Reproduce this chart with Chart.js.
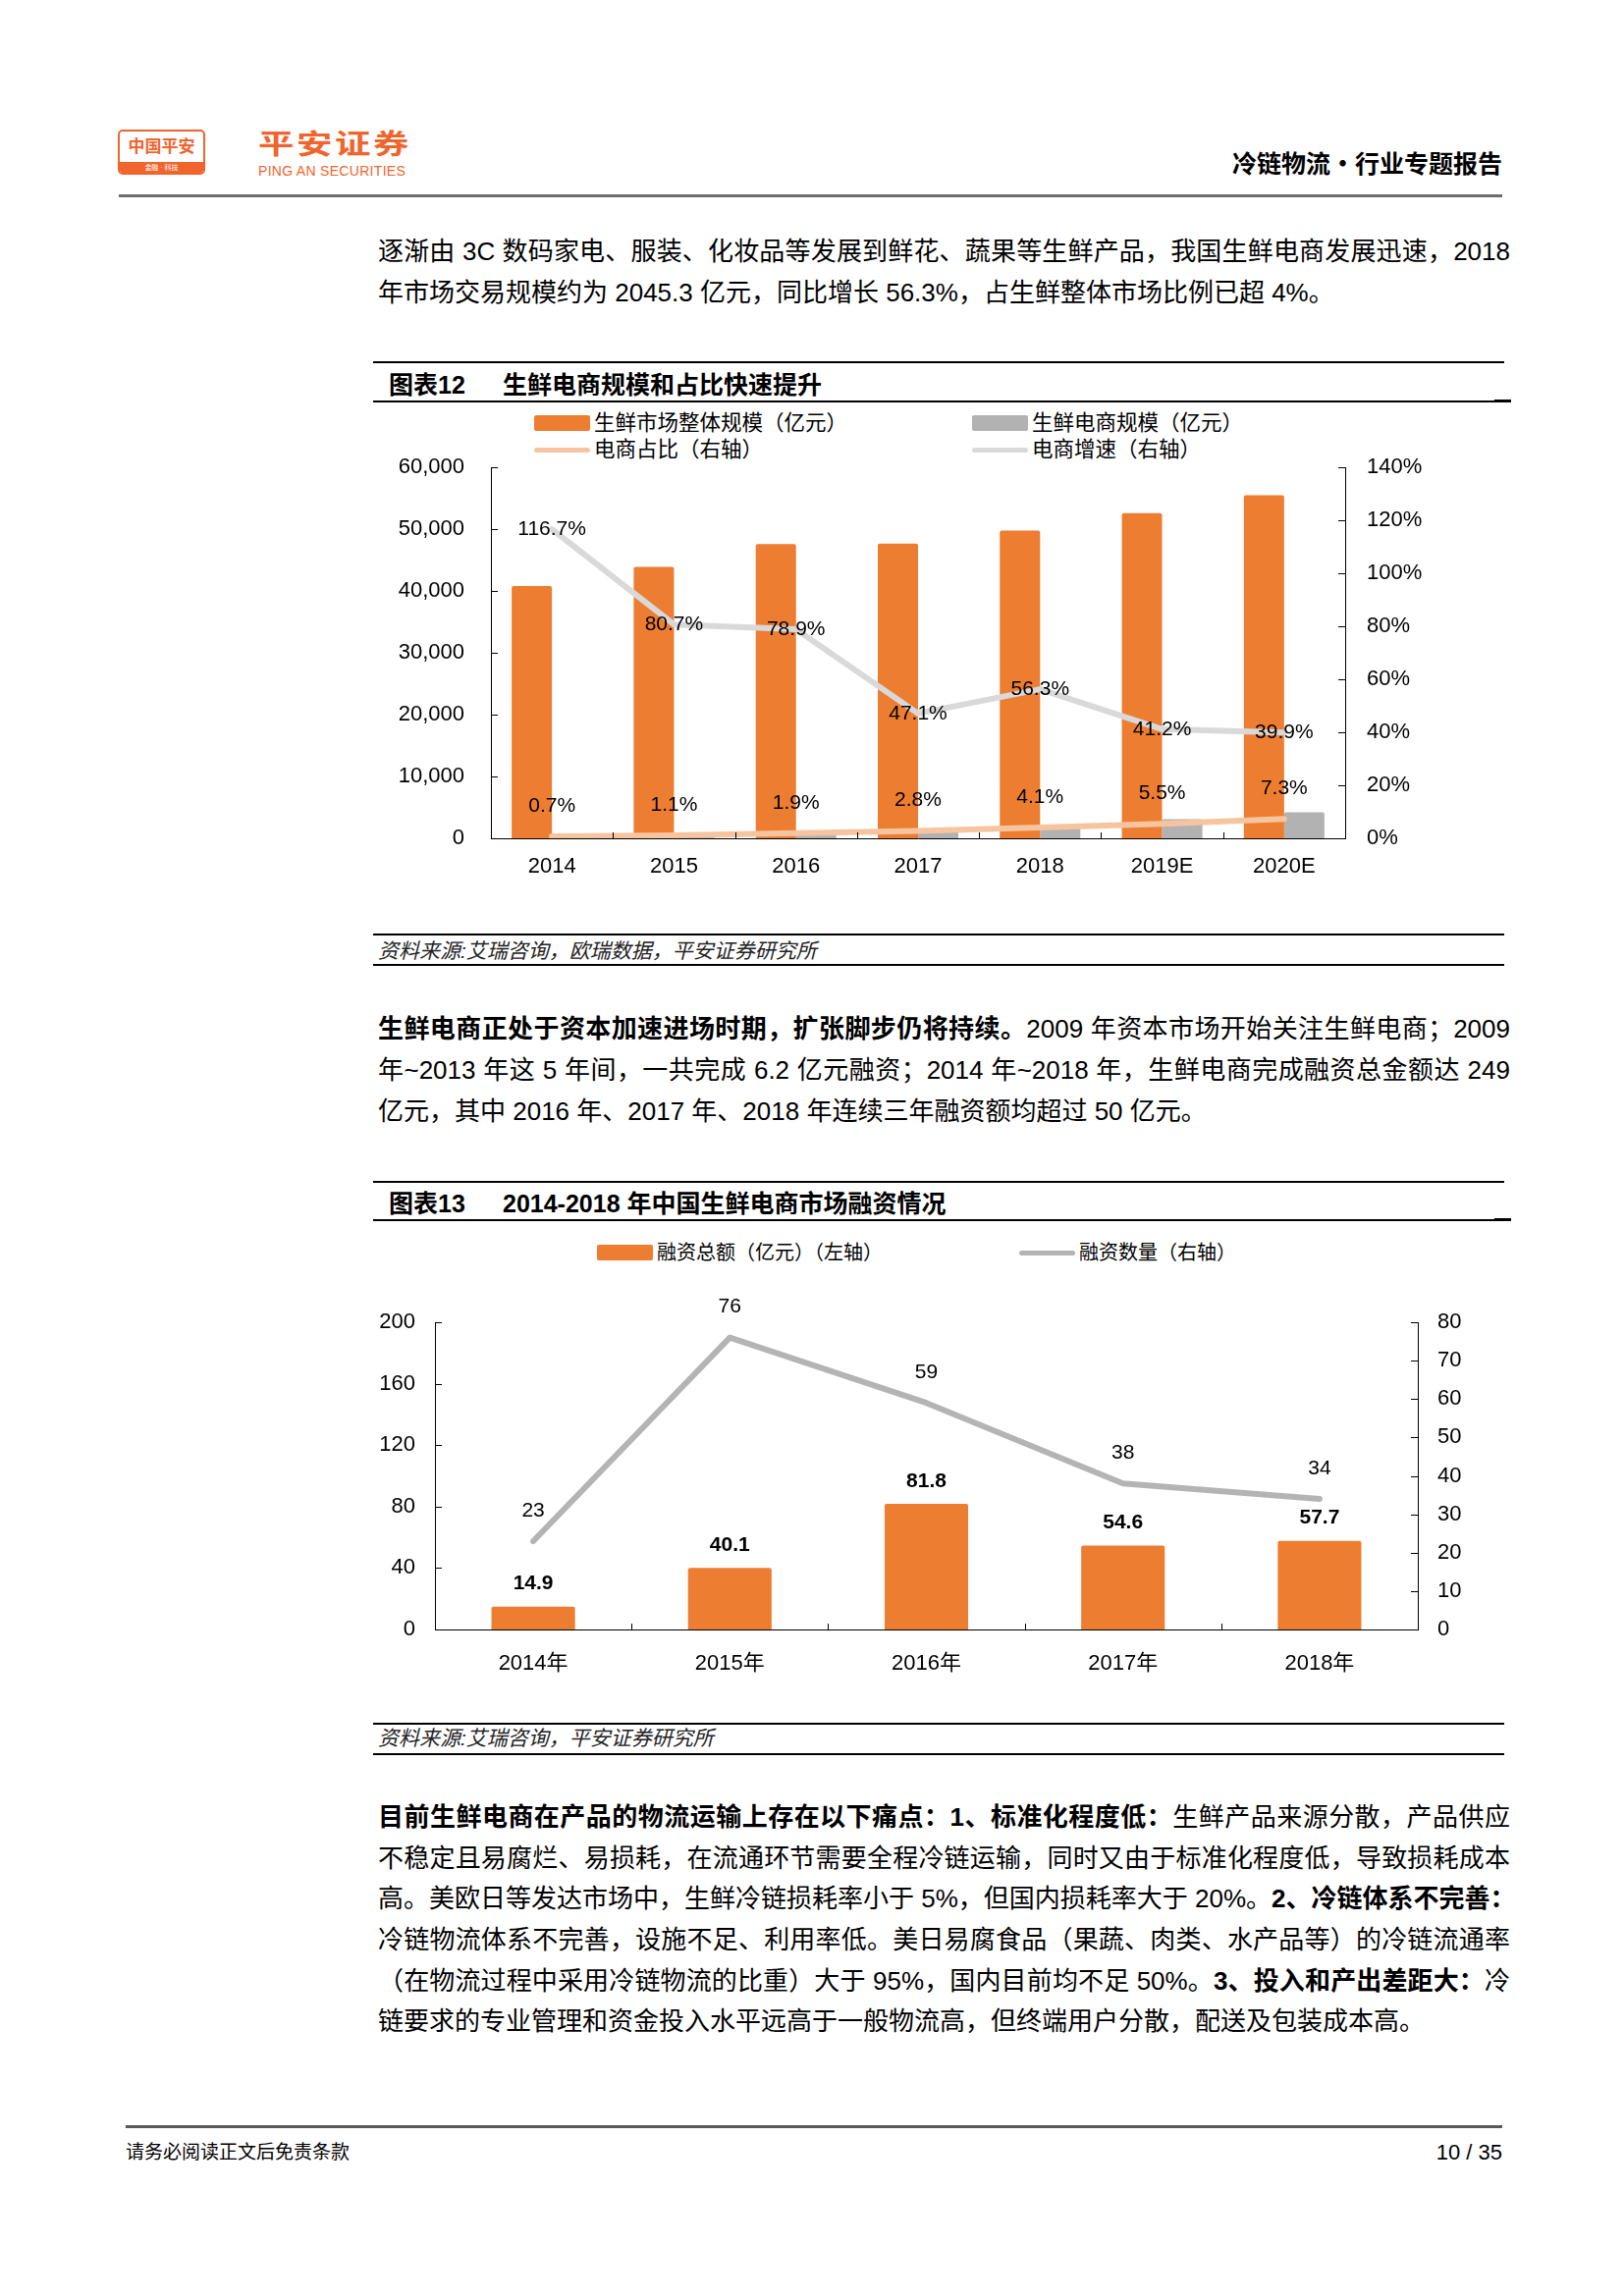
<!DOCTYPE html>
<html>
<head>
<meta charset="utf-8">
<script src="https://cdn.jsdelivr.net/npm/chart.js@4.4.1/dist/chart.umd.min.js"></script>
<style>
  body { margin: 0; background: #fff; }
  #page { position: relative; width: 1654px; height: 2339px; overflow: hidden; background: #fff;
          font-family: "Liberation Sans", "Noto Sans CJK SC", sans-serif; color: #000; }
  .abs { position: absolute; white-space: nowrap; }
  .txt { position: absolute; left: 385px; width: 1153px; height: 40px; line-height: 40px;
         font-size: 26px; white-space: nowrap; }
  .j { text-align: justify; text-align-last: justify; }
  .rule { position: absolute; background: #000; }
  .title { position: absolute; font-size: 25px; font-weight: bold; line-height: 30px; height: 30px; white-space: nowrap; }
  .src { position: absolute; left: 385px; font-size: 21px; font-style: italic; color: #222; line-height: 26px; white-space: nowrap; }
  .leg { position: absolute; white-space: nowrap; line-height: 26px; height: 26px; }
  canvas { position: absolute; }
</style>
</head>
<body>
<div id="page">
  <!-- header -->
  <div class="abs" style="left:120px;top:132px;width:85px;height:42px;border:2px solid #F0642D;border-radius:5px;overflow:hidden;">
    <div class="abs" style="left:0;top:5px;width:85px;text-align:center;font-size:17px;font-weight:bold;color:#F0642D;line-height:22px;">中国平安</div>
    <div class="abs" style="left:0;top:31px;width:85px;height:11px;background:#F0642D;color:#fff;font-size:7px;line-height:11px;text-align:center;">金融 · 科技</div>
  </div>
  <div class="abs" style="left:263px;top:131px;font-size:28px;font-weight:bold;color:#F0642D;letter-spacing:2px;transform:scaleX(1.3);transform-origin:left top;line-height:34px;">平安证券</div>
  <div class="abs" style="left:263px;top:166px;font-size:14px;color:#F0642D;line-height:16px;letter-spacing:0.3px;">PING AN SECURITIES</div>
  <div class="abs" style="right:124px;top:149px;font-size:25px;font-weight:bold;line-height:32px;font-family:'Noto Sans CJK SC',sans-serif;">冷链物流·行业专题报告</div>
  <div class="rule" style="left:121px;top:198px;width:1409px;height:3px;background:#6d6d6d;"></div>

  <!-- paragraph 1 -->
  <div class="txt j" style="top:236px;">逐渐由 3C 数码家电、服装、化妆品等发展到鲜花、蔬果等生鲜产品，我国生鲜电商发展迅速，2018</div>
  <div class="txt" style="top:278px;">年市场交易规模约为 2045.3 亿元，同比增长 56.3%，占生鲜整体市场比例已超 4%。</div>

  <!-- figure 12 -->
  <div class="rule" style="left:380px;top:368px;width:1152px;height:2px;"></div>
  <div class="title" style="left:396px;top:377px;">图表12</div>
  <div class="title" style="left:512px;top:377px;">生鲜电商规模和占比快速提升</div>
  <div class="rule" style="left:380px;top:408px;width:1152px;height:1.5px;"></div>
  <div class="rule" style="left:1522px;top:407px;width:17px;height:3px;"></div>
  <div id="legend1"></div>
  <canvas id="chart1" width="1150" height="476" style="left:380px;top:436px;"></canvas>
  <div class="rule" style="left:380px;top:951px;width:1152px;height:2px;"></div>
  <div class="src" style="top:956px;">资料来源:艾瑞咨询，欧瑞数据，平安证券研究所</div>
  <div class="rule" style="left:380px;top:982px;width:1152px;height:2px;"></div>

  <!-- paragraph 2 -->
  <div class="txt j" style="top:1028px;"><b>生鲜电商正处于资本加速进场时期，扩张脚步仍将持续。</b>2009 年资本市场开始关注生鲜电商；2009</div>
  <div class="txt j" style="top:1070px;">年~2013 年这 5 年间，一共完成 6.2 亿元融资；2014 年~2018 年，生鲜电商完成融资总金额达 249</div>
  <div class="txt" style="top:1112px;">亿元，其中 2016 年、2017 年、2018 年连续三年融资额均超过 50 亿元。</div>

  <!-- figure 13 -->
  <div class="rule" style="left:380px;top:1203px;width:1152px;height:2px;"></div>
  <div class="title" style="left:396px;top:1211px;">图表13</div>
  <div class="title" style="left:512px;top:1211px;">2014-2018 年中国生鲜电商市场融资情况</div>
  <div class="rule" style="left:380px;top:1242px;width:1152px;height:1.5px;"></div>
  <div class="rule" style="left:1522px;top:1241px;width:17px;height:3px;"></div>
  <div id="legend2"></div>
  <canvas id="chart2" width="1150" height="420" style="left:380px;top:1300px;"></canvas>
  <div class="rule" style="left:380px;top:1755px;width:1152px;height:2px;"></div>
  <div class="src" style="top:1758px;">资料来源:艾瑞咨询，平安证券研究所</div>
  <div class="rule" style="left:380px;top:1786px;width:1152px;height:2px;"></div>

  <!-- paragraph 3 -->
  <div class="txt j" style="top:1831px;"><b>目前生鲜电商在产品的物流运输上存在以下痛点：1、标准化程度低：</b>生鲜产品来源分散，产品供应</div>
  <div class="txt j" style="top:1873px;">不稳定且易腐烂、易损耗，在流通环节需要全程冷链运输，同时又由于标准化程度低，导致损耗成本</div>
  <div class="txt j" style="top:1914px;">高。美欧日等发达市场中，生鲜冷链损耗率小于 5%，但国内损耗率大于 20%。<b>2、冷链体系不完善：</b></div>
  <div class="txt j" style="top:1956px;">冷链物流体系不完善，设施不足、利用率低。美日易腐食品（果蔬、肉类、水产品等）的冷链流通率</div>
  <div class="txt j" style="top:1998px;">（在物流过程中采用冷链物流的比重）大于 95%，国内目前均不足 50%。<b>3、投入和产出差距大：</b>冷</div>
  <div class="txt" style="top:2039px;">链要求的专业管理和资金投入水平远高于一般物流高，但终端用户分散，配送及包装成本高。</div>

  <!-- footer -->
  <div class="rule" style="left:128px;top:2165px;width:1402px;height:3px;background:#595959;"></div>
  <div class="abs" style="left:128px;top:2180px;font-size:19px;line-height:26px;">请务必阅读正文后免责条款</div>
  <div class="abs" style="right:124px;top:2179px;font-size:22px;line-height:28px;">10 / 35</div>
</div>

<script>
const FONT = '"Liberation Sans", "Noto Sans CJK SC", sans-serif';
Chart.defaults.font.family = FONT;
Chart.defaults.color = '#000';

// chart 1 data
const years1 = ['2014', '2015', '2016', '2017', '2018', '2019E', '2020E'];
const marketSize = [40800, 43900, 47600, 47700, 49800, 52600, 55500];
const ecomSize = [290, 542, 914, 1391, 2045, 3100, 4200];
const ecomShare = [0.7, 1.1, 1.9, 2.8, 4.1, 5.5, 7.3];
const ecomGrowth = [116.7, 80.7, 78.9, 47.1, 56.3, 41.2, 39.9];
const sizeTicks = [0, 10000, 20000, 30000, 40000, 50000, 60000];
const pctTicks = [0, 20, 40, 60, 80, 100, 120, 140];

// chart 2 data
const years2 = ['2014年', '2015年', '2016年', '2017年', '2018年'];
const fundAmount = [14.9, 40.1, 81.8, 54.6, 57.7];
const fundCount = [23, 76, 59, 38, 34];
const amountTicks = [0, 40, 80, 120, 160, 200];
const countTicks = [0, 10, 20, 30, 40, 50, 60, 70, 80];

const ORANGE = '#ED7D31';

// value labels drawn next to each bar / point
const valueLabels = {
  id: 'valueLabels',
  afterDatasetsDraw(chart) {
    const ctx = chart.ctx;
    chart.data.datasets.forEach((ds, i) => {
      const lab = ds.valueLabel;
      if (!lab) return;
      const meta = chart.getDatasetMeta(i);
      ctx.save();
      ctx.font = (lab.bold ? 'bold ' : '') + lab.size + 'px ' + FONT;
      ctx.fillStyle = '#000';
      ctx.textAlign = 'center';
      ctx.textBaseline = 'middle';
      meta.data.forEach((el, j) => {
        ctx.fillText(lab.fmt(ds.data[j]), el.x, el.y + lab.dy);
      });
      ctx.restore();
    });
  }
};

// small tick marks pointing into the plot, like the excel original
const innerTicks = {
  id: 'innerTicks',
  afterDraw(chart) {
    const { ctx, chartArea: a, scales } = chart;
    ctx.save();
    ctx.strokeStyle = '#000';
    ctx.lineWidth = 1;
    ctx.beginPath();
    scales.y.ticks.forEach((t, i) => {
      const py = Math.round(scales.y.getPixelForTick(i)) + 0.5;
      ctx.moveTo(a.left, py); ctx.lineTo(a.left + 7, py);
    });
    scales.y1.ticks.forEach((t, i) => {
      const py = Math.round(scales.y1.getPixelForTick(i)) + 0.5;
      ctx.moveTo(a.right, py); ctx.lineTo(a.right - 7, py);
    });
    const x = scales.x;
    for (let i = 1; i < x.ticks.length; i++) {
      const px = Math.round((x.getPixelForTick(i - 1) + x.getPixelForTick(i)) / 2) + 0.5;
      ctx.moveTo(px, a.bottom); ctx.lineTo(px, a.bottom - 6);
    }
    ctx.stroke();
    ctx.restore();
  }
};

function fixedTicks(list) {
  return scale => { scale.ticks = list.map(v => ({ value: v })); };
}

function legendItem(host, x, y, kind, color, text, size) {
  const d = document.createElement('div');
  d.className = 'leg';
  d.style.left = x + 'px';
  d.style.top = (y - 13) + 'px';
  d.style.fontSize = size + 'px';
  const sw = document.createElement('span');
  sw.style.position = 'absolute';
  sw.style.left = '0px';
  sw.style.background = color;
  if (kind === 'box') {
    sw.style.width = '57px'; sw.style.height = '16px'; sw.style.top = '5px'; sw.style.borderRadius = '2px';
  } else {
    sw.style.width = '57px'; sw.style.height = '5px'; sw.style.top = '11px'; sw.style.borderRadius = '3px';
  }
  d.appendChild(sw);
  const t = document.createElement('span');
  t.style.position = 'absolute';
  t.style.left = '61px';
  t.textContent = text;
  d.appendChild(t);
  document.getElementById(host).appendChild(d);
}

const axisBorder = { display: true, color: '#000', width: 1 };
const noGrid = { display: false, drawTicks: false };

const chart1 = new Chart(document.getElementById('chart1').getContext('2d'), {
  type: 'bar',
  data: {
    labels: years1,
    datasets: [
      { type: 'line', label: '电商增速（右轴）', data: ecomGrowth, yAxisID: 'y1', order: 0,
        borderColor: '#D9D9D9', borderWidth: 6, pointRadius: 0, borderCapStyle: 'round', borderJoinStyle: 'round',
        valueLabel: { size: 21, dy: 0, fmt: v => v.toFixed(1) + '%' } },
      { type: 'line', label: '电商占比（右轴）', data: ecomShare, yAxisID: 'y1', order: 0,
        borderColor: '#F7C4A0', borderWidth: 6, pointRadius: 0, borderCapStyle: 'round', borderJoinStyle: 'round',
        valueLabel: { size: 21, dy: -31, fmt: v => v.toFixed(1) + '%' } },
      { label: '生鲜市场整体规模（亿元）', data: marketSize, yAxisID: 'y', order: 1,
        backgroundColor: ORANGE, borderRadius: 2, categoryPercentage: 0.66, barPercentage: 1 },
      { label: '生鲜电商规模（亿元）', data: ecomSize, yAxisID: 'y', order: 1,
        backgroundColor: '#B2B2B2', borderRadius: 2, categoryPercentage: 0.66, barPercentage: 1 }
    ]
  },
  options: {
    responsive: false,
    animation: false,
    devicePixelRatio: 1,
    layout: { padding: { top: 12, left: 0, right: 0, bottom: 0 } },
    plugins: { legend: { display: false }, tooltip: { enabled: false } },
    scales: {
      x: {
        grid: noGrid, border: axisBorder,
        ticks: { font: { size: 22 }, padding: 16 },
        afterFit: s => { s.height = 58; }
      },
      y: {
        position: 'left', min: 0, max: 60000,
        grid: noGrid, border: axisBorder,
        ticks: { font: { size: 22 }, padding: 27, callback: v => v.toLocaleString('en-US') },
        afterBuildTicks: fixedTicks(sizeTicks),
        afterFit: s => { s.width = 120; }
      },
      y1: {
        position: 'right', min: 0, max: 140,
        grid: noGrid, border: axisBorder,
        ticks: { font: { size: 22 }, padding: 22, callback: v => v + '%' },
        afterBuildTicks: fixedTicks(pctTicks),
        afterFit: s => { s.width = 160; }
      }
    }
  },
  plugins: [valueLabels, innerTicks]
});

const chart2 = new Chart(document.getElementById('chart2').getContext('2d'), {
  type: 'bar',
  data: {
    labels: years2,
    datasets: [
      { type: 'line', label: '融资数量（右轴）', data: fundCount, yAxisID: 'y1', order: 0,
        borderColor: '#B4B4B4', borderWidth: 6, pointRadius: 0, borderCapStyle: 'round', borderJoinStyle: 'round',
        valueLabel: { size: 21, dy: -31, fmt: v => String(v) } },
      { label: '融资总额（亿元）（左轴）', data: fundAmount, yAxisID: 'y', order: 1,
        backgroundColor: ORANGE, borderRadius: 2, categoryPercentage: 1, barPercentage: 0.425,
        valueLabel: { size: 21, bold: true, dy: -23, fmt: v => v.toFixed(1) } }
    ]
  },
  options: {
    responsive: false,
    animation: false,
    devicePixelRatio: 1,
    layout: { padding: { top: 47, left: 0, right: 0, bottom: 0 } },
    plugins: { legend: { display: false }, tooltip: { enabled: false } },
    scales: {
      x: {
        grid: noGrid, border: axisBorder,
        ticks: { font: { size: 22 }, padding: 22 },
        afterFit: s => { s.height = 60; }
      },
      y: {
        position: 'left', min: 0, max: 200,
        grid: noGrid, border: axisBorder,
        ticks: { font: { size: 22 }, padding: 20 },
        afterBuildTicks: fixedTicks(amountTicks),
        afterFit: s => { s.width = 63; }
      },
      y1: {
        position: 'right', min: 0, max: 80,
        grid: noGrid, border: axisBorder,
        ticks: { font: { size: 22 }, padding: 20 },
        afterBuildTicks: fixedTicks(countTicks),
        afterFit: s => { s.width = 86; }
      }
    }
  },
  plugins: [valueLabels, innerTicks]
});

// html legends, text taken from the chart datasets
const d1 = chart1.data.datasets;
legendItem('legend1', 544, 431, 'box', d1[2].backgroundColor, d1[2].label, 21.5);
legendItem('legend1', 990, 431, 'box', d1[3].backgroundColor, d1[3].label, 21.5);
legendItem('legend1', 544, 458, 'line', d1[1].borderColor, d1[1].label, 21.5);
legendItem('legend1', 990, 458, 'line', d1[0].borderColor, d1[0].label, 21.5);
const d2 = chart2.data.datasets;
legendItem('legend2', 608, 1276, 'box', d2[1].backgroundColor, d2[1].label, 20);
legendItem('legend2', 1038, 1276, 'line', d2[0].borderColor, d2[0].label, 20);
</script>
</body>
</html>
